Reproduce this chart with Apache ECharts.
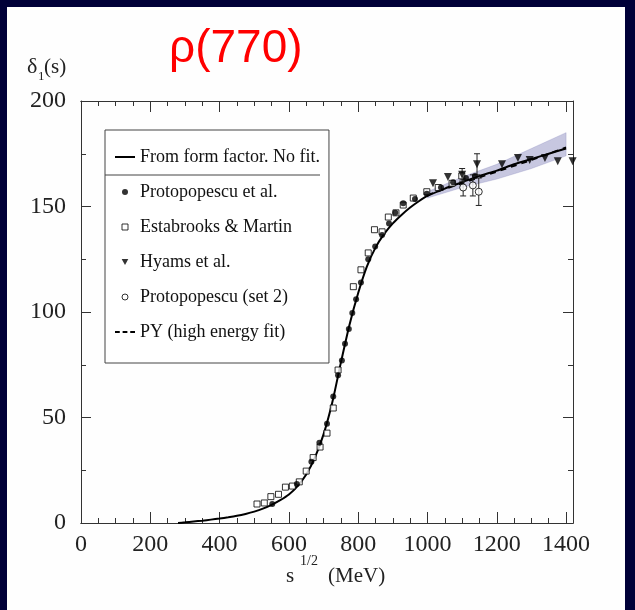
<!DOCTYPE html>
<html>
<head>
<meta charset="utf-8">
<script src="https://cdn.jsdelivr.net/npm/echarts@6/dist/echarts.min.js"></script>
<style>
html,body{margin:0;padding:0;background:#000038;}
#c{width:635px;height:610px;}
</style>
</head>
<body>
<div id="c"></div>
<script>
// ---- data ----
const xTickLabels = [0, 200, 400, 600, 800, 1000, 1200, 1400];
const xMinorTicks = [50,100,150,250,300,350,450,500,550,650,700,750,850,900,950,1050,1100,1150,1250,1300,1350];
const yTickLabels = [0, 50, 100, 150, 200];

const curveX = [280, 300, 325, 350, 375, 400, 425, 450, 475, 500, 525, 550, 575, 600, 625, 650, 675, 700, 725, 750, 775, 800, 825, 850, 875, 900, 925, 950, 975, 1000, 1050, 1100, 1150, 1200, 1250, 1300, 1350, 1400];
const curveY = [0, 0.3, 0.7, 1.1, 1.6, 2.1, 2.7, 3.4, 4.3, 5.4, 6.8, 8.6, 10.8, 13.5, 17.5, 23, 31, 42, 57, 76, 94, 109, 121.5, 130.5, 137, 142, 146, 149.5, 152.5, 155, 158.5, 161.5, 164.5, 167, 170, 172.5, 175, 177.5];

const protoX = [552, 623, 665, 688, 710, 728, 742, 753, 762, 773, 783, 794, 808, 829, 849, 869, 889, 907, 930, 964, 998, 1039, 1074, 1111, 1137];
const protoY = [9, 18.5, 29, 38, 47, 60, 70, 77, 85, 92, 99.5, 106, 114, 125, 131, 136.5, 142, 147, 151.5, 153.5, 156, 159, 161.5, 163.5, 164.5];

const estaX = [508, 529, 548, 570, 590, 610, 630, 650, 670, 690, 710, 728, 742, 786, 808, 829, 847, 869, 887, 909, 930, 959, 998, 1031, 1071, 1099];
const estaY = [9, 9.5, 12.5, 13.6, 17, 17.5, 19.5, 24.6, 31, 36, 42.6, 54.5, 72.5, 112, 120, 128, 139, 138, 145, 147, 150.7, 154, 157, 159, 161, 164.5];

const hyamsX = [1016, 1059, 1100, 1143, 1215, 1261, 1295, 1339, 1376, 1419];
const hyamsY = [161, 164, 165, 170, 170, 173, 172, 173, 171.5, 171.5];
const hyamsErr = [0, 0, 3, 5, 0, 0, 0, 0, 0, 0];

const set2X = [1103, 1131, 1148];
const set2Y = [159, 160, 157];
const set2Err = [4, 5, 6.5];

const pyX = [1000, 1100, 1200, 1300, 1400];
const pyY = [155.5, 161, 166.5, 172, 178];

const bandX = [1000, 1100, 1200, 1300, 1400];
const bandLow = [154, 159, 163, 168, 174];
const bandHigh = [157, 164, 170, 177.5, 185];

// ---- build ----
const zip = (xs, ys) => xs.map((x, i) => [x, ys[i]]);
const errData = [];
set2X.forEach((x, i) => errData.push([x, set2Y[i] - set2Err[i], set2Y[i] + set2Err[i]]));
hyamsX.forEach((x, i) => { if (hyamsErr[i] > 0) errData.push([x, hyamsY[i] - hyamsErr[i], hyamsY[i] + hyamsErr[i]]); });

const serif = "'Liberation Serif', 'DejaVu Serif', serif";
const axisCol = '#333';

const chart = echarts.init(document.getElementById('c'), null, {renderer: 'canvas'});

function xAx(pos, ticks, len, labels) {
  return {
    type: 'value', position: pos, min: 0, max: 1420, gridIndex: 0,
    axisLine: {show: true, onZero: false, lineStyle: {color: axisCol, width: 1}},
    axisTick: {show: true, inside: true, length: len, customValues: ticks, lineStyle: {color: axisCol}},
    axisLabel: labels ? {show: true, customValues: xTickLabels, formatter: v => String(v), fontFamily: serif, fontSize: 24, color: '#222', margin: 10} : {show: false},
    splitLine: {show: false}
  };
}
function yAx(pos, labels) {
  return {
    type: 'value', position: pos, min: 0, max: 200, interval: 50,
    axisLine: {show: true, onZero: false, lineStyle: {color: axisCol, width: 1}},
    axisTick: {show: true, inside: true, length: 10, lineStyle: {color: axisCol}},
    minorTick: {show: true, splitNumber: 2, length: 5, lineStyle: {color: axisCol}},
    axisLabel: labels ? {show: true, formatter: v => String(v), fontFamily: serif, fontSize: 24, color: '#222', margin: 15} : {show: false},
    splitLine: {show: false}
  };
}

const option = {
  backgroundColor: '#000038',
  animation: false,
  title: {
    text: 'ρ(770)', left: 169, top: 26, padding: 0,
    textStyle: {color: '#ff0000', fontSize: 46, fontWeight: 'normal', fontFamily: "'Liberation Sans', Arial, sans-serif"}
  },
  grid: {left: 81, right: 62, top: 101, bottom: 87, containLabel: false},
  xAxis: [
    xAx('bottom', xTickLabels, 11, true),
    xAx('bottom', xMinorTicks, 5, false),
    xAx('top', xTickLabels, 11, false),
    xAx('top', xMinorTicks, 5, false)
  ],
  yAxis: [yAx('left', true), yAx('right', false)],
  legend: {
    orient: 'vertical', left: 105, top: 130,
    padding: [17, 9, 21, 10], itemGap: 15, itemWidth: 20, itemHeight: 6,
    borderColor: '#444', borderWidth: 1, backgroundColor: '#fff',
    selectedMode: false,
    textStyle: {fontFamily: serif, fontSize: 18, color: '#111', lineHeight: 20},
    data: [
      {name: 'From form factor. No fit.', icon: 'path://M0,0H20V2H0Z', itemStyle: {color: '#000'}},
      {name: 'Protopopescu et al.', icon: 'circle', itemStyle: {color: '#000'}},
      {name: 'Estabrooks & Martin', icon: 'path://M0,0H10V10H0Z', itemStyle: {color: '#fff', borderColor: '#000', borderWidth: 1}},
      {name: 'Hyams et al.', icon: 'path://M0,0L10,0L5,9Z', itemStyle: {color: '#000'}},
      {name: 'Protopopescu (set 2)', icon: 'circle', itemStyle: {color: '#fff', borderColor: '#000', borderWidth: 1}},
      {name: 'PY (high energy fit)', icon: 'path://M0,0H5V2H0Z M8,0H13V2H8Z M16,0H21V2H16Z', itemStyle: {color: '#000'}}
    ]
  },
  graphic: [
    {type: 'rect', z: -10, silent: true, shape: {x: 7, y: 7, width: 618, height: 610}, style: {fill: '#fefefe'}},
    {type: 'line', z: 100, shape: {x1: 105, y1: 175, x2: 320, y2: 175}, style: {stroke: '#444', lineWidth: 1}},
    {type: 'text', left: 27, top: 56, style: {text: 'δ', font: "22px " + serif, fill: '#222'}},
    {type: 'text', left: 38, top: 70, style: {text: '1', font: "13px " + serif, fill: '#222'}},
    {type: 'text', left: 44, top: 57, style: {text: '(s)', font: "21px " + serif, fill: '#222'}},
    {type: 'text', left: 286, top: 566, style: {text: 's', font: "21px " + serif, fill: '#222'}},
    {type: 'text', left: 300, top: 554, style: {text: '1/2', font: "14px " + serif, fill: '#222'}},
    {type: 'text', left: 328, top: 566, style: {text: '(MeV)', font: "21px " + serif, fill: '#222'}}
  ],
  series: [
    {
      name: 'band', type: 'custom', z: 1, silent: true,
      data: bandX.map((x, i) => [x, bandLow[i], bandHigh[i]]),
      encode: {x: 0, y: [1, 2]},
      renderItem: function (params, api) {
        if (params.dataIndex !== 0) return null;
        const pts = [];
        for (let i = 0; i < bandX.length; i++) pts.push(api.coord([bandX[i], bandHigh[i]]));
        for (let i = bandX.length - 1; i >= 0; i--) pts.push(api.coord([bandX[i], bandLow[i]]));
        return {type: 'polygon', shape: {points: pts}, style: {fill: 'rgba(110,110,175,0.38)', stroke: 'rgba(110,110,175,0.5)', lineWidth: 0.5}};
      }
    },
    {
      name: 'From form factor. No fit.', type: 'line', z: 3, color: '#000',
      data: zip(curveX, curveY), showSymbol: false, symbol: 'none',
      smooth: 0.25,
      lineStyle: {color: '#000', width: 2}
    },
    {
      name: 'PY (high energy fit)', type: 'line', z: 4, color: '#000',
      data: zip(pyX, pyY), showSymbol: false, symbol: 'none',
      lineStyle: {color: '#000', width: 1.8, type: [6, 5]}
    },
    {
      name: 'errors', type: 'custom', z: 5, silent: true,
      data: errData, encode: {x: 0, y: [1, 2]},
      renderItem: function (params, api) {
        const lo = api.coord([api.value(0), api.value(1)]);
        const hi = api.coord([api.value(0), api.value(2)]);
        const st = {stroke: '#222', lineWidth: 1};
        return {type: 'group', children: [
          {type: 'line', shape: {x1: lo[0], y1: lo[1], x2: hi[0], y2: hi[1]}, style: st},
          {type: 'line', shape: {x1: lo[0] - 3, y1: lo[1], x2: lo[0] + 3, y2: lo[1]}, style: st},
          {type: 'line', shape: {x1: hi[0] - 3, y1: hi[1], x2: hi[0] + 3, y2: hi[1]}, style: st}
        ]};
      }
    },
    {
      name: 'Estabrooks & Martin', type: 'scatter', z: 6, clip: false,
      data: zip(estaX, estaY), symbol: 'rect', symbolSize: 6,
      itemStyle: {color: '#fff', borderColor: '#000', borderWidth: 1}
    },
    {
      name: 'Protopopescu et al.', type: 'scatter', z: 7, clip: false,
      data: zip(protoX, protoY), symbol: 'circle', symbolSize: 6,
      itemStyle: {color: '#000'}
    },
    {
      name: 'Hyams et al.', type: 'scatter', z: 7, clip: false,
      data: zip(hyamsX, hyamsY), symbol: 'triangle', symbolRotate: 180, symbolSize: 8,
      itemStyle: {color: '#000'}
    },
    {
      name: 'Protopopescu (set 2)', type: 'scatter', z: 8, clip: false,
      data: zip(set2X, set2Y), symbol: 'circle', symbolSize: 7,
      itemStyle: {color: '#fff', borderColor: '#000', borderWidth: 1}
    }
  ]
};
chart.setOption(option);
</script>
</body>
</html>
